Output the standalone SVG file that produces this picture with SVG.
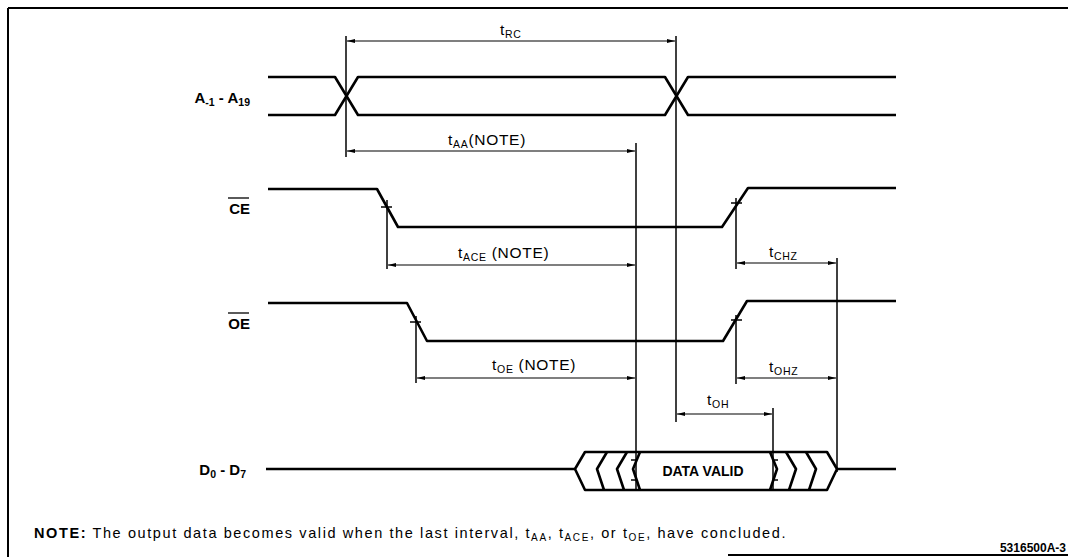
<svg xmlns="http://www.w3.org/2000/svg" width="1068" height="557" viewBox="0 0 1068 557">
<style>
.sig{fill:none;stroke:#000;stroke-width:2.6;stroke-linejoin:round}
.ref{fill:none;stroke:#000;stroke-width:1.5}
.dim{fill:none;stroke:#000;stroke-width:1.2;marker-start:url(#ah);marker-end:url(#ah)}
.tick{fill:none;stroke:#000;stroke-width:1.5}
.frame{fill:none;stroke:#000;stroke-width:2}
.lbl{font-family:"Liberation Sans",Arial,sans-serif;font-weight:bold;font-size:15px;fill:#000}
.tm{font-family:"Liberation Sans",Arial,sans-serif;font-size:15.5px;fill:#000;letter-spacing:0.7px}
.note{font-family:"Liberation Sans",Arial,sans-serif;font-size:14.5px;fill:#000;letter-spacing:1.6px}
.fig{font-family:"Liberation Sans",Arial,sans-serif;font-weight:bold;font-size:12px;fill:#000}
.dv{font-family:"Liberation Sans",Arial,sans-serif;font-weight:bold;font-size:14px;fill:#000}
</style>
<defs>
<marker id="ah" viewBox="0 0 8 4" refX="8" refY="2" markerWidth="8" markerHeight="4" markerUnits="userSpaceOnUse" orient="auto-start-reverse">
<path d="M0,0 L8,2 L0,4 Z" fill="#000"/>
</marker>
</defs>
<rect width="1068" height="557" fill="#fff"/>
<g id="frame">
<line class="frame" x1="8" y1="8" x2="1068" y2="8"/>
<line class="frame" x1="8" y1="8" x2="8" y2="557"/>
<line class="frame" x1="728" y1="555" x2="1068" y2="555"/>
</g>
<g id="sig-A">
<text class="lbl" x="250" y="103" text-anchor="end">A<tspan font-size="10.5" dy="3">-1</tspan><tspan dy="-3"> - A</tspan><tspan font-size="10.5" dy="3">19</tspan></text>
<path class="sig" d="M268,77 L335,77 L358,115 L665,115 L688,77 L896,77"/>
<path class="sig" d="M268,115 L335,115 L358,77 L665,77 L688,115 L896,115"/>
</g>
<g id="sig-CE">
<text class="lbl" x="250" y="214" text-anchor="end">CE</text>
<line x1="228" y1="198" x2="249" y2="198" stroke="#000" stroke-width="1.3"/>
<path class="sig" d="M268,189 L377,189 L398,227 L722,227 L748,188 L896,188"/>
<line class="tick" x1="381" y1="207" x2="392" y2="207"/>
<line class="tick" x1="731" y1="203" x2="742" y2="203"/>
</g>
<g id="sig-OE">
<text class="lbl" x="250" y="329" text-anchor="end">OE</text>
<line x1="228" y1="313" x2="249" y2="313" stroke="#000" stroke-width="1.3"/>
<path class="sig" d="M268,303 L407,303 L427,341 L723,341 L747,301 L896,301"/>
<line class="tick" x1="410" y1="322" x2="421" y2="322"/>
<line class="tick" x1="731" y1="320" x2="742" y2="320"/>
</g>
<g id="sig-D">
<text class="lbl" x="246" y="475" text-anchor="end">D<tspan font-size="10.5" dy="3">0</tspan><tspan dy="-3"> - D</tspan><tspan font-size="10.5" dy="3">7</tspan></text>
<line class="sig" x1="266" y1="469" x2="575" y2="469"/>
<line class="sig" x1="837" y1="469" x2="896" y2="469"/>
<path class="sig" d="M585,452 L827,452 L837,469 L827,490 L585,490 L575,469 Z"/>
<path class="sig" stroke-width="2" d="M607,452 L597,469 L604,490"/>
<path class="sig" stroke-width="2" d="M627,452 L617,469 L624,490"/>
<path class="sig" stroke-width="2" d="M640,452 L633,469 L640,490"/>
<path class="sig" stroke-width="2" d="M770,452 L777,469 L770,490"/>
<path class="sig" stroke-width="2" d="M786,452 L796,469 L789,490"/>
<path class="sig" stroke-width="2" d="M806,452 L816,469 L809,490"/>
<line class="tick" x1="631" y1="460" x2="636" y2="460"/>
<line class="tick" x1="631" y1="480" x2="636" y2="480"/>
<line class="tick" x1="773" y1="460" x2="778" y2="460"/>
<line class="tick" x1="773" y1="480" x2="778" y2="480"/>
<text class="dv" x="703" y="476" text-anchor="middle">DATA VALID</text>
</g>
<g id="connectors">
<line class="ref" x1="346" y1="36" x2="346" y2="157"/>
<line class="ref" x1="676" y1="36" x2="676" y2="422"/>
<line class="ref" x1="636" y1="143" x2="636" y2="490"/>
<line class="ref" x1="387" y1="200" x2="387" y2="269"/>
<line class="ref" x1="416" y1="316" x2="416" y2="383"/>
<line class="ref" x1="736" y1="198" x2="736" y2="269"/>
<line class="ref" x1="736" y1="315" x2="736" y2="384"/>
<line class="ref" x1="837" y1="258" x2="837" y2="472"/>
<line class="ref" x1="773" y1="408" x2="773" y2="490"/>
<line class="dim" x1="347" y1="41" x2="675" y2="41"/>
<line class="dim" x1="347" y1="151" x2="635" y2="151"/>
<line class="dim" x1="388" y1="265" x2="635" y2="265"/>
<line class="dim" x1="737" y1="263" x2="836" y2="263"/>
<line class="dim" x1="417" y1="378" x2="635" y2="378"/>
<line class="dim" x1="737" y1="378" x2="836" y2="378"/>
<line class="dim" x1="677" y1="414" x2="772" y2="414"/>
</g>
<g id="labels">
<text class="tm" x="500" y="35">t<tspan font-size="10.5" dy="3">RC</tspan></text>
<text class="tm" x="448" y="145">t<tspan font-size="10.5" dy="3">AA</tspan><tspan dy="-3">(NOTE)</tspan></text>
<text class="tm" x="458" y="258">t<tspan font-size="10.5" dy="3">ACE</tspan><tspan dy="-3"> (NOTE)</tspan></text>
<text class="tm" x="769" y="257">t<tspan font-size="10.5" dy="3">CHZ</tspan></text>
<text class="tm" x="492" y="370">t<tspan font-size="10.5" dy="3">OE</tspan><tspan dy="-3"> (NOTE)</tspan></text>
<text class="tm" x="769" y="372">t<tspan font-size="10.5" dy="3">OHZ</tspan></text>
<text class="tm" x="707" y="405">t<tspan font-size="10.5" dy="3">OH</tspan></text>
</g>
<g id="note">
<text class="note" x="34" y="538"><tspan font-weight="bold">NOTE:</tspan>  The output data becomes valid when the last interval, t<tspan font-size="10" dy="3">AA</tspan><tspan dy="-3">, t</tspan><tspan font-size="10" dy="3">ACE</tspan><tspan dy="-3">, or t</tspan><tspan font-size="10" dy="3">OE</tspan><tspan dy="-3">, have concluded.</tspan></text>
<text class="fig" x="1066" y="552" text-anchor="end">5316500A-3</text>
</g>
</svg>
